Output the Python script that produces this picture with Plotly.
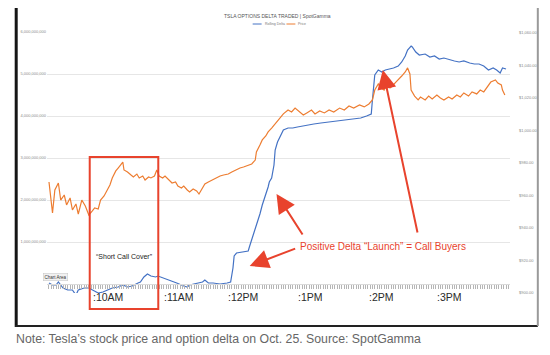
import plotly.graph_objects as go

DATE = "2021-10-25"

# Rolling delta (in millions of delta) by time of day
delta_times = [
    "09:30", "09:33", "09:36", "09:38", "09:42", "09:46", "09:50", "09:53", "09:55", "10:00",
    "10:04", "10:07", "10:12", "10:16", "10:20", "10:24", "10:29", "10:33", "10:37", "10:41",
    "10:46", "10:48", "10:51", "10:54", "10:57", "11:01", "11:03", "11:08", "11:13", "11:19",
    "11:25", "11:28", "11:30", "11:36", "11:41", "11:43", "11:46", "11:50", "11:56", "12:02",
    "12:05", "12:07", "12:08", "12:10", "12:15", "12:20", "12:21", "12:24", "12:26", "12:28",
    "12:30", "12:32", "12:35", "12:37", "12:38", "12:40", "12:42", "12:43", "12:45", "12:48",
    "12:50", "12:54", "12:58", "13:02", "13:06", "13:10", "13:16", "13:22", "13:29", "13:36",
    "13:43", "13:49", "13:56", "14:01", "14:05", "14:06", "14:08", "14:11", "14:14", "14:17",
    "14:21", "14:24", "14:28", "14:31", "14:34", "14:36", "14:39", "14:40", "14:43", "14:46",
    "14:51", "14:55", "14:59", "15:03", "15:07", "15:12", "15:16", "15:20", "15:24", "15:29",
    "15:33", "15:37", "15:41", "15:45", "15:49", "15:52", "15:55", "15:57", "16:00",
]
delta_mn = [
    24, -24, -24, 48, -95, -143, -143, -262, -143, -95,
    -95, -143, -214, -190, -143, -95, -71, -24, -71, -48,
    24, 48, 167, 238, 190, 167, 190, 143, 95, 24,
    -48, -71, -24, 24, 48, 95, 24, 24, 0, 24,
    48, 381, 667, 738, 762, 786, 881, 1143, 1286, 1476,
    1667, 1881, 2119, 2310, 2429, 2524, 2833, 3190, 3381, 3548,
    3667, 3714, 3714, 3738, 3762, 3786, 3810, 3833, 3857, 3881,
    3905, 3929, 3952, 4000, 4048, 4381, 4976, 5095, 5048, 5095,
    5119, 5143, 5190, 5286, 5429, 5571, 5667, 5643, 5524, 5452,
    5476, 5405, 5429, 5357, 5381, 5333, 5310, 5286, 5310, 5262,
    5238, 5238, 5190, 5095, 5143, 5095, 5024, 5143, 5119,
]

# TSLA price (USD) by time of day
price_times = [
    "09:30", "09:33", "09:35", "09:38", "09:40", "09:43", "09:45", "09:48", "09:50", "09:53",
    "09:55", "09:58", "10:01", "10:04", "10:07", "10:09", "10:12", "10:14", "10:17", "10:19",
    "10:22", "10:24", "10:27", "10:29", "10:31", "10:33", "10:34", "10:37", "10:40", "10:42",
    "10:45", "10:47", "10:50", "10:52", "10:55", "10:57", "11:00", "11:02", "11:04", "11:07",
    "11:09", "11:12", "11:15", "11:18", "11:20", "11:23", "11:25", "11:28", "11:30", "11:33",
    "11:36", "11:38", "11:41", "11:43", "11:46", "11:49", "11:52", "11:56", "11:59", "12:03",
    "12:06", "12:09", "12:13", "12:16", "12:20", "12:23", "12:26", "12:27", "12:30", "12:32",
    "12:35", "12:37", "12:40", "12:43", "12:47", "12:50", "12:54", "12:57", "13:00", "13:04",
    "13:07", "13:10", "13:14", "13:17", "13:21", "13:25", "13:29", "13:33", "13:38", "13:42",
    "13:46", "13:50", "13:55", "13:59", "14:03", "14:06", "14:08", "14:11", "14:13", "14:16",
    "14:18", "14:21", "14:23", "14:26", "14:28", "14:31", "14:34", "14:36", "14:38", "14:39",
    "14:42", "14:45", "14:47", "14:51", "14:54", "14:57", "15:01", "15:04", "15:07", "15:11",
    "15:14", "15:18", "15:21", "15:24", "15:28", "15:31", "15:35", "15:38", "15:41", "15:45",
    "15:47", "15:51", "15:53", "15:56", "15:57", "15:59",
]
price_usd = [
    968.3, 949.2, 963.4, 967.7, 957.2, 960.3, 954.2, 958.5, 951.1, 954.8,
    948.6, 957.2, 953.5, 948.0, 950.5, 952.3, 951.7, 957.2, 959.7, 962.2,
    966.5, 970.8, 975.1, 976.9, 978.8, 980.6, 975.7, 974.5, 972.6, 971.4,
    973.2, 970.8, 972.0, 969.5, 971.4, 970.8, 972.0, 975.7, 972.0, 970.8,
    972.0, 969.5, 967.7, 968.3, 965.8, 964.6, 965.8, 963.4, 962.2, 964.0,
    962.8, 960.9, 964.6, 967.1, 968.3, 969.5, 970.8, 972.0, 972.6, 973.2,
    974.5, 975.7, 976.9, 977.5, 978.8, 979.4, 981.8, 986.8, 991.1, 994.2,
    996.6, 999.1, 1001.5, 1004.0, 1007.7, 1010.2, 1012.6, 1011.4, 1013.8, 1011.4,
    1009.5, 1010.8, 1012.6, 1010.2, 1012.0, 1010.8, 1012.6, 1011.4, 1013.8, 1012.6,
    1015.1, 1013.8, 1015.7, 1014.5, 1016.3, 1018.8, 1024.9, 1028.6, 1026.2, 1024.9,
    1028.6, 1026.2, 1027.4, 1029.8, 1031.1, 1033.5, 1036.0, 1038.5, 1034.8, 1024.9,
    1021.2, 1018.8, 1020.6, 1018.8, 1021.2, 1019.4, 1021.8, 1020.0, 1018.8, 1020.6,
    1019.4, 1021.8, 1020.6, 1023.1, 1021.2, 1023.7, 1022.5, 1024.9, 1023.7, 1028.0,
    1029.8, 1031.1, 1029.2, 1028.0, 1024.9, 1021.8,
]

left_tick_values = [1e9, 2e9, 3e9, 4e9, 5e9, 6e9]
left_tick_labels = ["1,000,000,000", "2,000,000,000", "3,000,000,000",
                    "4,000,000,000", "5,000,000,000", "6,000,000,000"]
right_tick_values = [900, 920, 940, 960, 980, 1000, 1020, 1040, 1060]
right_tick_labels = ["$900.00", "$920.00", "$940.00", "$960.00", "$980.00",
                     "$1,000.00", "$1,020.00", "$1,040.00", "$1,060.00"]
hour_labels = [":10AM", ":11AM", ":12PM", ":1PM", ":2PM", ":3PM"]

title_text = "TSLA OPTIONS DELTA TRADED | SpotGamma"
series_names = ["Rolling Delta", "Price"]
note_text = "Note: Tesla\u2019s stock price and option delta on Oct. 25. Source: SpotGamma"
launch_text = "Positive Delta \u201cLaunch\u201d = Call Buyers"
cover_text = "\u201cShort Call Cover\u201d"

BLUE = "#4472C4"
ORANGE = "#ED7D31"
RED = "#E8432D"

# ---------- layout helpers (window pixel -> paper) ----------
# the page body adds an 8px margin, so the figure is 8px smaller each way
W, H = 542, 347
L, R, T, B = 38, 38, 24, 62
PW, PH = W - L - R, H - T - B
WIN_L, WIN_B = 46, 293   # plot-area left / bottom in window pixels


def px(x):
    return (x - WIN_L) / PW


def py(y):
    return (WIN_B - y) / PH


fig = go.Figure()
fig.add_trace(go.Scatter(
    x=[f"{DATE} {t}" for t in delta_times],
    y=[v * 1e6 for v in delta_mn],
    name=series_names[0], mode="lines",
    line=dict(color=BLUE, width=1.2), yaxis="y",
))
fig.add_trace(go.Scatter(
    x=[f"{DATE} {t}" for t in price_times],
    y=price_usd,
    name=series_names[1], mode="lines",
    line=dict(color=ORANGE, width=1.2), yaxis="y2",
))

FONT = "Liberation Sans, Arial, sans-serif"

fig.update_layout(
    width=W, height=H,
    margin=dict(l=L, r=R, t=T, b=B, pad=0),
    paper_bgcolor="white", plot_bgcolor="white",
    showlegend=False,
    font=dict(family=FONT),
    xaxis=dict(
        type="date",
        range=[f"{DATE} 09:28:18", f"{DATE} 16:03:24"],
        anchor="free", position=py(284),
        showgrid=False, zeroline=False,
        showline=True, linecolor="#dadada", linewidth=1,
        ticks="outside", ticklen=4, tickwidth=0.7, tickcolor="#b5b5b5",
        tick0=f"{DATE} 09:30", dtick=120000,
        showticklabels=False,
    ),
    yaxis=dict(
        range=[-214e6, 6000e6],
        tickmode="array", tickvals=left_tick_values, ticktext=left_tick_labels,
        tickfont=dict(size=4, color="#8a8a8a"),
        showgrid=True, gridcolor="#e6e6e6", gridwidth=1,
        zeroline=False, showline=False, ticks="",
    ),
    yaxis2=dict(
        overlaying="y", side="right",
        range=[900, 1060.6],
        tickmode="array", tickvals=right_tick_values, ticktext=right_tick_labels,
        tickfont=dict(size=4, color="#8a8a8a"),
        showgrid=False, zeroline=False, showline=False, ticks="",
        ticklabelstandoff=8,
    ),
)

shapes = [
    # outer chart frame
    dict(type="line", xref="paper", yref="paper", x0=px(15), x1=px(15), y0=py(327), y1=py(7),
         line=dict(color="#151515", width=3)),
    dict(type="line", xref="paper", yref="paper", x0=px(14), x1=px(540), y0=py(326), y1=py(326),
         line=dict(color="#222222", width=2)),
    dict(type="line", xref="paper", yref="paper", x0=px(540), x1=px(540), y0=py(326), y1=py(7),
         line=dict(color="#9a9a9a", width=2)),
    # red highlight box
    dict(type="rect", xref="paper", yref="paper", x0=px(89), x1=px(158), y0=py(309), y1=py(157),
         line=dict(color=RED, width=2), fillcolor="rgba(0,0,0,0)"),
    # manual legend keys
    dict(type="line", xref="paper", yref="paper", x0=px(253), x1=px(262), y0=py(24), y1=py(24),
         line=dict(color=BLUE, width=1)),
    dict(type="line", xref="paper", yref="paper", x0=px(287), x1=px(296), y0=py(24), y1=py(24),
         line=dict(color=ORANGE, width=1)),
]
fig.update_layout(shapes=shapes)

ann = []
ann.append(dict(text=title_text, xref="paper", yref="paper", x=px(278), y=py(16),
                xanchor="center", yanchor="middle",
                showarrow=False, font=dict(size=5, color="#555555")))
ann.append(dict(text=series_names[0], xref="paper", yref="paper", x=px(263), y=py(24),
                xanchor="left", yanchor="middle", showarrow=False,
                font=dict(size=3.5, color="#777777")))
ann.append(dict(text=series_names[1], xref="paper", yref="paper", x=px(297), y=py(24),
                xanchor="left", yanchor="middle", showarrow=False,
                font=dict(size=3.5, color="#777777")))

for lab, xl in zip(hour_labels, [90, 162, 226, 297, 368, 437]):
    ann.append(dict(text=lab, xref="paper", yref="paper", x=px(xl), y=py(297),
                    xanchor="left", yanchor="middle", showarrow=False,
                    font=dict(size=10.5, color="#2a2a2a")))

ann.append(dict(text=cover_text, xref="paper", yref="paper", x=px(124), y=py(256),
                xanchor="center", yanchor="middle",
                showarrow=False, font=dict(size=7, color="#222222")))
ann.append(dict(text=launch_text, xref="paper", yref="paper", x=px(384), y=py(246),
                xanchor="center", yanchor="middle",
                showarrow=False, font=dict(size=10, color=RED)))

for (hx, hy, tx, ty) in [(250, 266, 297, 248), (277, 194, 304, 236), (384, 70, 419, 234)]:
    ann.append(dict(text="", xref="paper", yref="paper", x=px(hx), y=py(hy),
                    ax=tx - hx, ay=ty - hy, axref="pixel", ayref="pixel",
                    showarrow=True, arrowhead=2, arrowsize=1.9, arrowwidth=2,
                    arrowcolor=RED))

ann.append(dict(text="Chart Area", xref="paper", yref="paper", x=px(55), y=py(277),
                xanchor="center", yanchor="middle",
                showarrow=False, font=dict(size=4.5, color="#333333"),
                bgcolor="#f1f1f1", bordercolor="#c4c4c4", borderwidth=0.5, borderpad=1))

ann.append(dict(text=note_text, xref="paper", yref="paper", x=px(13), y=py(339),
                xanchor="left", yanchor="middle", showarrow=False,
                font=dict(size=12.3, color="#666666")))

fig.update_layout(annotations=ann)

fig.write_html("out.html")
